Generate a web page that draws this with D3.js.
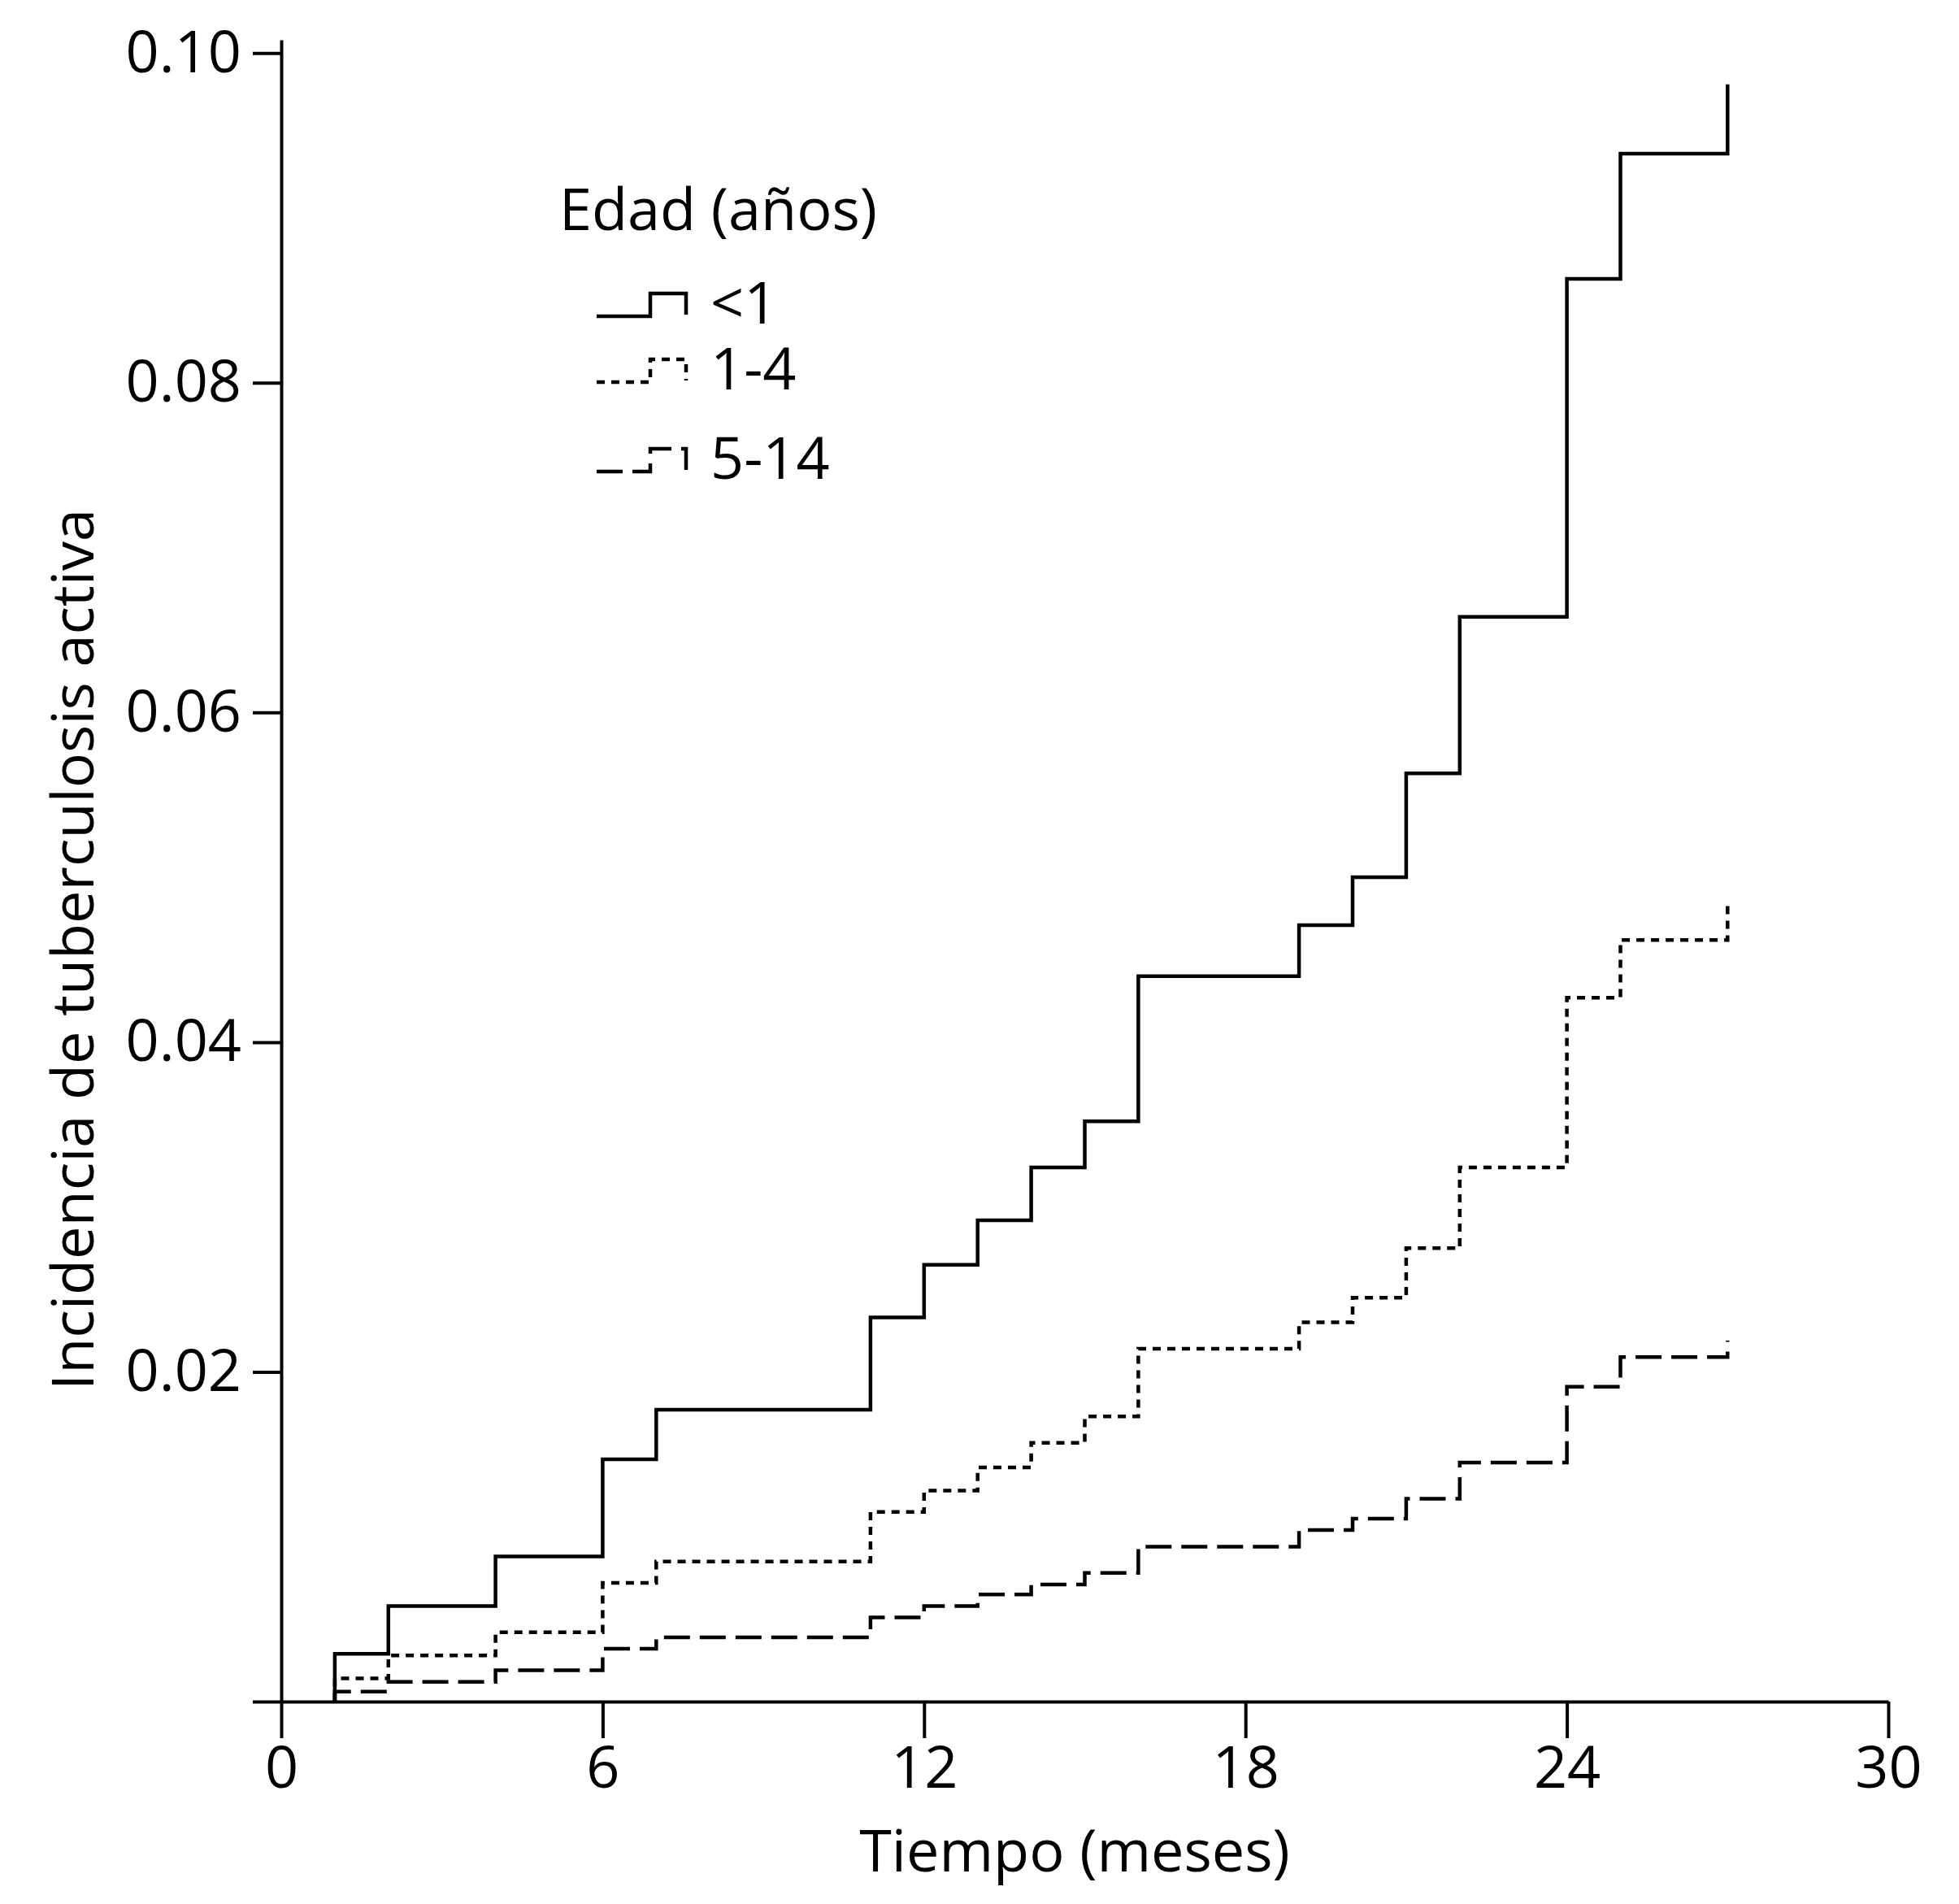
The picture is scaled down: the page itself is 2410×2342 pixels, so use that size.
<!DOCTYPE html>
<html>
<head>
<meta charset="utf-8">
<script src="https://cdn.jsdelivr.net/npm/d3@7"></script>
<style>
  body { margin: 0; background: #fff; }
  svg text { font-family: "Open Sans", sans-serif; fill: #000; }
</style>
</head>
<body>
<svg id="chart" width="2410" height="2342"></svg>
<script>
// months at which the curves step up
const months = [1, 2, 4, 6, 7, 11, 12, 13, 14, 15, 16, 19, 20, 21, 22, 24, 25, 27];

// cumulative incidence
const under1 = [0.0029, 0.0058, 0.0088, 0.0147, 0.0177, 0.0233, 0.0265, 0.0292, 0.0324,
  0.0352, 0.0440, 0.0471, 0.0500, 0.0563, 0.0658, 0.0863, 0.0939, 0.0981];
const age1to4 = [0.0014, 0.0028, 0.0042, 0.0072, 0.0085, 0.0115, 0.0128, 0.0142, 0.0157,
  0.0173, 0.0214, 0.0230, 0.0245, 0.0275, 0.0324, 0.0427, 0.0462, 0.0485];
const age5to14 = [0.0006, 0.0012, 0.0019, 0.0032, 0.0039, 0.0051, 0.0058, 0.0065, 0.0071,
  0.0078, 0.0094, 0.0104, 0.0111, 0.0123, 0.0145, 0.0191, 0.0209, 0.0219];

const seriesNames = ['<1', '1-4', '5-14'];
const xTicks = [0, 6, 12, 18, 24, 30];
const yTicks = [0, 0.02, 0.04, 0.06, 0.08, 0.10];

const font = '"Open Sans", sans-serif';
const fontSize = 72;

const svg = d3.select('#chart');

const x = d3.scaleLinear().domain([0, 30]).range([346, 2323]);
const y = d3.scaleLinear().domain([0, 0.1008]).range([2093, 49]);

// x axis
svg.append('g')
  .attr('transform', `translate(0,${y(0)})`)
  .call(d3.axisBottom(x).tickValues(xTicks).tickSize(45).tickPadding(10).tickSizeOuter(0))
  .attr('font-size', fontSize)
  .attr('font-family', font)
  .call((g) => g.selectAll('path, line').attr('stroke', '#000').attr('stroke-width', 4));

// y axis, no label at 0
svg.append('g')
  .attr('transform', `translate(${x(0)},0)`)
  .call(d3.axisLeft(y).tickValues(yTicks).tickSize(35).tickPadding(14).tickSizeOuter(0)
    .tickFormat((d) => (d === 0 ? '' : d3.format('.2f')(d))))
  .attr('font-size', fontSize)
  .attr('font-family', font)
  .call((g) => g.selectAll('path, line').attr('stroke', '#000').attr('stroke-width', 4));

// axis titles
svg.append('text')
  .attr('x', 1322)
  .attr('y', 2302)
  .attr('text-anchor', 'middle')
  .attr('font-size', fontSize)
  .text('Tiempo (meses)');

svg.append('text')
  .attr('transform', 'translate(115,1168) rotate(-90)')
  .attr('text-anchor', 'middle')
  .attr('font-size', fontSize)
  .text('Incidencia de tuberculosis activa');

// step curves
const series = [
  { name: seriesNames[0], values: under1, dash: null },
  { name: seriesNames[1], values: age1to4, dash: '10 8' },
  { name: seriesNames[2], values: age5to14, dash: '32 12' },
];

const line = d3.line()
  .x((d) => x(d[0]))
  .y((d) => y(d[1]))
  .curve(d3.curveStepAfter);

series.forEach((s) => {
  const pts = [[months[0], 0]].concat(months.map((m, i) => [m, s.values[i]]));
  svg.append('path')
    .attr('d', line(pts))
    .attr('fill', 'none')
    .attr('stroke', '#000')
    .attr('stroke-width', 4.5)
    .attr('stroke-dasharray', s.dash);
});

// legend
const legend = svg.append('g');

legend.append('text')
  .attr('x', 688)
  .attr('y', 283)
  .attr('font-size', fontSize)
  .text('Edad (años)');

const glyph = d3.line();
const glyphPts = [[0, 28], [66, 28], [66, 0], [110, 0], [110, 26]];
const legendTops = [361, 442, 552];

series.forEach((s, i) => {
  const g = legend.append('g').attr('transform', `translate(734,${legendTops[i]})`);
  g.append('path')
    .attr('d', glyph(glyphPts))
    .attr('fill', 'none')
    .attr('stroke', '#000')
    .attr('stroke-width', 4.5)
    .attr('stroke-dasharray', s.dash);
  g.append('text')
    .attr('x', 140)
    .attr('y', 37)
    .attr('font-size', fontSize)
    .text(s.name);
});
</script>
</body>
</html>
